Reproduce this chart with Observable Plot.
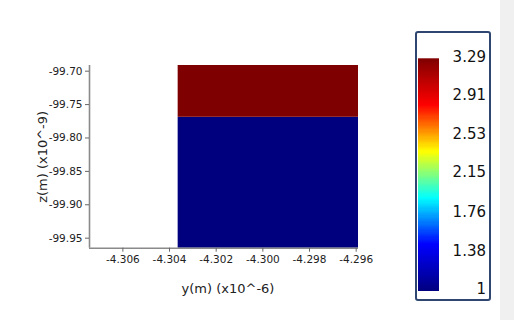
<!DOCTYPE html>
<html>
<head>
<meta charset="utf-8">
<script src="https://cdn.jsdelivr.net/npm/d3@7"></script>
<script src="https://cdn.jsdelivr.net/npm/@observablehq/plot@0.6"></script>
<style>
  html, body { margin: 0; padding: 0; background: #fff; }
  #wrap { position: relative; width: 514px; height: 320px; overflow: hidden; font-family: "DejaVu Sans", sans-serif; }
  #strip { position: absolute; left: 500px; top: 0; width: 14px; height: 320px; background: #f0f0f0; }
  #main { position: absolute; left: 0; top: 0; }
  #bar { position: absolute; left: 415px; top: 31px; width: 72px; height: 266px; border: 2.5px solid #2e4670; border-radius: 3px; background: #fff; }
  #bar svg { position: absolute; left: 0; top: 0; }
</style>
</head>
<body>
<div id="wrap">
  <div id="strip"></div>
  <div id="main"></div>
  <div id="bar"></div>
</div>
<script>
// Data
const cellY1 = [-4.30363, -4.30363];      // y(m) x10^-6, left edge
const cellY2 = [-4.2959, -4.2959];        // right edge
const cellZ1 = [-99.965, -99.769];        // z(m) x10^-9, bottom edge
const cellZ2 = [-99.769, -99.6915];       // top edge
const cellValue = [1, 3.29];

const xTicks = [-4.306, -4.304, -4.302, -4.300, -4.298, -4.296];
const yTicks = [-99.70, -99.75, -99.80, -99.85, -99.90, -99.95];
const barTicks = [3.29, 2.91, 2.53, 2.15, 1.76, 1.38, 1];
const barTickLabels = ["3.29", "2.91", "2.53", "2.15", "1.76", "1.38", "1"];
const valueDomain = [1, 3.29];
const jet = ["#00007f", "#0000ff", "#00ffff", "#ffff00", "#ff0000", "#7f0000"];

const xDomain = [-4.30743, -4.2959];
const yDomain = [-99.965, -99.6915];

const cells = cellValue.map((v, i) => ({x1: cellY1[i], x2: cellY2[i], y1: cellZ1[i], y2: cellZ2[i], v}));

const colorOpts = {type: "linear", domain: valueDomain, range: jet, interpolate: "rgb"};

const main = Plot.plot({
  width: 514, height: 320,
  marginLeft: 89, marginRight: 156, marginTop: 65, marginBottom: 72.3,
  style: {fontFamily: "DejaVu Sans, sans-serif", fontSize: "10.5px", color: "#222", background: "transparent"},
  x: {domain: xDomain},
  y: {domain: yDomain},
  color: colorOpts,
  marks: [
    Plot.rect(cells, {x1: "x1", x2: "x2", y1: "y1", y2: "y2", fill: "v"}),
    Plot.ruleX([xDomain[0]], {stroke: "#8a8a8a", strokeWidth: 1.6}),
    Plot.ruleY([yDomain[0]], {stroke: "#8a8a8a", strokeWidth: 1.6}),
    Plot.axisX(xTicks, {tickSize: 4, tickPadding: 3, tickFormat: d => d.toFixed(3), label: null, stroke: "#666", fill: "#222"}),
    Plot.axisY(yTicks, {tickSize: 4, tickPadding: 3, tickFormat: d => d.toFixed(2), label: null, stroke: "#666", fill: "#222"}),
    Plot.text(["y(m) (x10^-6)"], {frameAnchor: "bottom", dy: 45, dx: 4, fontSize: 13, fill: "#222"}),
    Plot.text(["z(m) (x10^-9)"], {frameAnchor: "left", textAnchor: "middle", dx: -47, rotate: -90, fontSize: 13, fill: "#222"})
  ]
});
document.getElementById("main").appendChild(main);

const bar = Plot.plot({
  width: 72, height: 266,
  marginLeft: 0.5, marginRight: 50.5, marginTop: 24.8, marginBottom: 8.5,
  style: {fontFamily: "DejaVu Sans, sans-serif", background: "transparent"},
  x: {domain: [0, 1], axis: null},
  y: {domain: valueDomain, axis: null},
  color: colorOpts,
  marks: [
    Plot.raster({x1: 0, x2: 1, y1: valueDomain[0], y2: valueDomain[1], width: 1, height: 200, fill: (x, y) => y, imageRendering: "pixelated"}),
    Plot.text(barTicks, {y: d => d, text: (d, i) => barTickLabels[i], frameAnchor: "right", dx: 47, dy: -1.5, textAnchor: "end", fontSize: 15, fill: "#111"})
  ]
});
document.getElementById("bar").appendChild(bar);
</script>
</body>
</html>
